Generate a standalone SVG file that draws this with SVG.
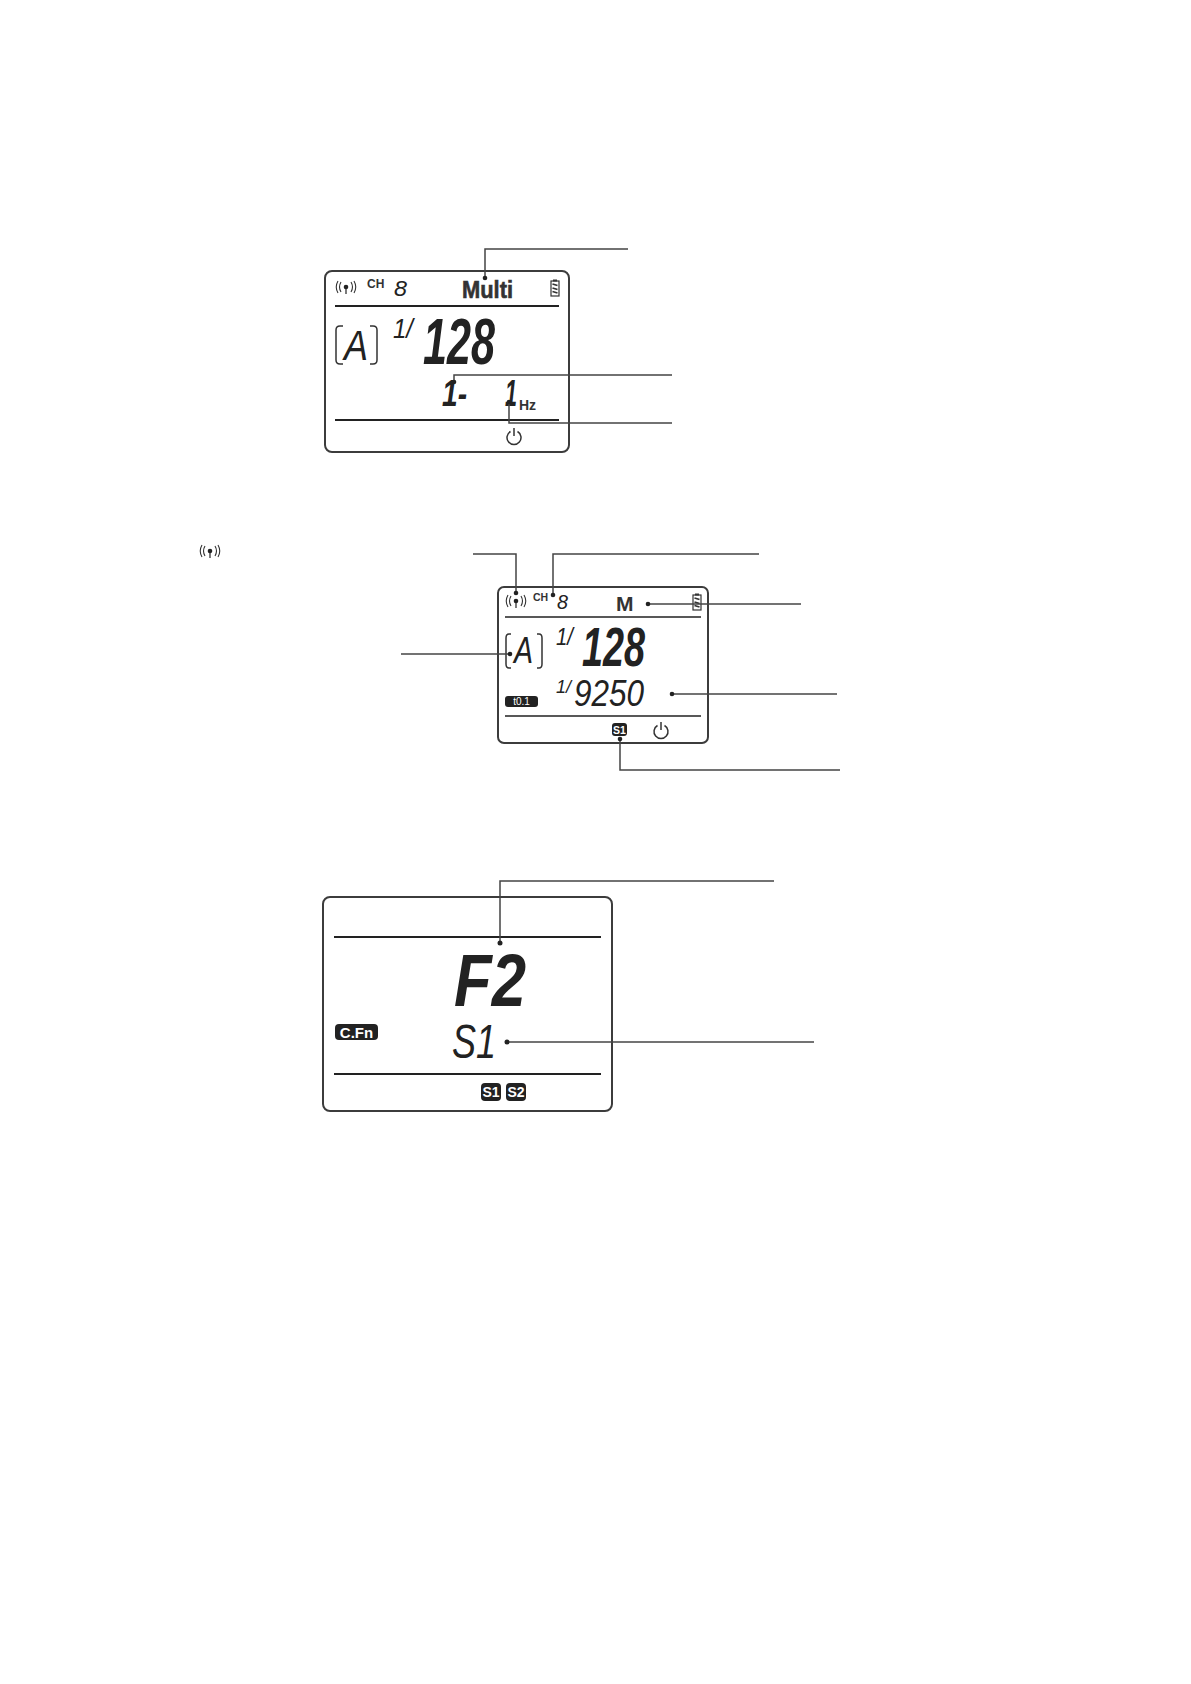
<svg xmlns="http://www.w3.org/2000/svg" width="1191" height="1684" viewBox="0 0 1191 1684">
<style>
.box{fill:#fff;stroke:#3c3c3c;stroke-width:2}
.rule{stroke:#222;stroke-width:2;fill:none}
.lead{stroke:#444;stroke-width:1.5;fill:none}
.dot{fill:#222}
.lab{font-family:"Liberation Sans",Arial,sans-serif;font-weight:700;fill:#333}
.seg{font-family:"Liberation Sans",Arial,sans-serif;font-style:italic;font-weight:700;fill:#222}
.thin{font-family:"Liberation Sans",Arial,sans-serif;font-style:italic;font-weight:400;fill:#222}
.chip{fill:#222}
.chipt{font-family:"Liberation Sans",Arial,sans-serif;font-weight:700;fill:#fff;text-anchor:middle}
.ic{fill:none;stroke:#333;stroke-width:1.100}
.br{fill:none;stroke:#333;stroke-width:1.500}
</style>
<defs>
<g id="ant"><path class="ic" d="M-5 -5Q-8 0 -5 5M-8 -6Q-11.500 0 -8 6M5 -5Q8 0 5 5M8 -6Q11.500 0 8 6"/><circle r="2.300" fill="#222"/><path d="M0 0V7" stroke="#222" stroke-width="1.200"/></g>
<g id="pow"><path d="M-3.500 -5.500A7 7 0 1 0 3.500 -5.500" fill="none" stroke="#333" stroke-width="1.500"/><path d="M0 -9V-1" stroke="#333" stroke-width="1.500"/></g>
<g id="bat"><rect x="-4" y="-7" width="8" height="15" fill="none" stroke="#333" stroke-width="1.200"/><rect x="-2" y="-8.500" width="4" height="2" fill="#333"/><path d="M-2.500 -4L2.500 -2.500M-2.500 0L2.500 1.500M-2.500 3.500L2.500 5" stroke="#333" stroke-width="1.800"/></g>
</defs>
<g id="standalone-antenna"><use href="#ant" x="210" y="551"/></g>
<g id="panel-multi">
<rect class="box" x="325" y="271" width="244" height="181" rx="7"/>
<path class="rule" d="M335 306H559M335 420H559"/>
<use href="#ant" x="346" y="287"/>
<text class="lab" x="367" y="288" font-size="12">CH</text>
<text class="thin" x="394" y="296" font-size="22" textLength="13" lengthAdjust="spacingAndGlyphs">8</text>
<text class="lab" x="462" y="298" font-size="24" textLength="51" lengthAdjust="spacingAndGlyphs" stroke="#333" stroke-width="0.600">Multi</text>
<use href="#bat" x="555" y="288"/>
<path class="br" d="M343 326H340Q336 326 336 330V360Q336 364 340 364H343M370 326H373Q377 326 377 330V360Q377 364 373 364H370"/>
<text class="thin" x="344" y="360" font-size="42" textLength="24" lengthAdjust="spacingAndGlyphs">A</text>
<text class="thin" x="393" y="338" font-size="28" textLength="20" lengthAdjust="spacingAndGlyphs">1/</text>
<text class="seg" x="423" y="364" font-size="64" textLength="72" lengthAdjust="spacingAndGlyphs">128</text>
<text class="seg" x="442" y="406" font-size="36" textLength="25" lengthAdjust="spacingAndGlyphs">1-</text>
<text class="seg" x="505" y="406" font-size="36" textLength="12" lengthAdjust="spacingAndGlyphs">1</text>
<text class="lab" x="519" y="410" font-size="14">Hz</text>
<use href="#pow" x="514" y="437"/>
</g>
<g id="panel-manual">
<rect class="box" x="498" y="587" width="210" height="156" rx="6"/>
<path class="rule" d="M505 617H701M505 716H701" style="stroke-width:1.500"/>
<use href="#ant" x="516" y="601"/>
<text class="lab" x="533" y="601" font-size="10.500">CH</text>
<text class="thin" x="557" y="609" font-size="20" textLength="11" lengthAdjust="spacingAndGlyphs">8</text>
<text class="lab" x="616" y="611" font-size="21">M</text>
<use href="#bat" x="697" y="602"/>
<path class="br" d="M511 634H509Q506 634 506 638V664Q506 668 509 668H511M537 634H539Q542 634 542 638V664Q542 668 539 668H537"/>
<text class="thin" x="514" y="663" font-size="36" textLength="19" lengthAdjust="spacingAndGlyphs">A</text>
<text class="thin" x="556" y="645" font-size="24" textLength="17" lengthAdjust="spacingAndGlyphs">1/</text>
<text class="seg" x="582" y="666" font-size="55" textLength="63" lengthAdjust="spacingAndGlyphs">128</text>
<text class="thin" x="556" y="693" font-size="18" textLength="15" lengthAdjust="spacingAndGlyphs">1/</text>
<text class="thin" x="574" y="706" font-size="36" textLength="70" lengthAdjust="spacingAndGlyphs">9250</text>
<rect class="chip" x="505" y="696" width="33" height="11" rx="3"/>
<text class="chipt" x="521.500" y="705" font-size="10" style="font-weight:400">t0.1</text>
<rect class="chip" x="612" y="723" width="15" height="13" rx="3"/>
<text class="chipt" x="619.500" y="733.500" font-size="10.500">S1</text>
<use href="#pow" x="661" y="731"/>
</g>
<g id="panel-cfn">
<rect class="box" x="323" y="897" width="289" height="214" rx="7"/>
<path class="rule" d="M334 937H601M334 1074H601"/>
<text class="seg" x="454" y="1006" font-size="75" textLength="72" lengthAdjust="spacingAndGlyphs">F2</text>
<rect class="chip" x="335" y="1024" width="43" height="16" rx="4"/>
<text class="chipt" x="356.500" y="1037.500" font-size="15">C.Fn</text>
<text class="thin" x="452" y="1058" font-size="49" textLength="44" lengthAdjust="spacingAndGlyphs">S1</text>
<rect class="chip" x="481" y="1083" width="20" height="18" rx="4"/>
<text class="chipt" x="491" y="1097" font-size="14">S1</text>
<rect class="chip" x="506" y="1083" width="20" height="18" rx="4"/>
<text class="chipt" x="516" y="1097" font-size="14">S2</text>
</g>
<g id="connectors">
<path class="lead" d="M485 278V249H628"/>
<path class="lead" d="M454 382V375H672"/>
<path class="lead" d="M509 402V423H672"/>
<path class="lead" d="M473 554H516V593"/>
<path class="lead" d="M759 554H553V595"/>
<path class="lead" d="M648 604H801"/>
<path class="lead" d="M401 654H510"/>
<path class="lead" d="M672 694H837"/>
<path class="lead" d="M620 739V770H840"/>
<path class="lead" d="M774 881H500V943"/>
<path class="lead" d="M507 1042H814"/>
<circle class="dot" cx="485" cy="278" r="2.300"/><circle class="dot" cx="454" cy="382" r="2.300"/><circle class="dot" cx="509" cy="402" r="2.300"/>
<circle class="dot" cx="516" cy="593" r="2.300"/><circle class="dot" cx="553" cy="595" r="2.300"/><circle class="dot" cx="648" cy="604" r="2.300"/><circle class="dot" cx="510" cy="654" r="2.300"/><circle class="dot" cx="672" cy="694" r="2.300"/><circle class="dot" cx="620" cy="739" r="2.300"/>
<circle class="dot" cx="500" cy="943" r="2.500"/><circle class="dot" cx="507" cy="1042" r="2.500"/>
</g>
</svg>
